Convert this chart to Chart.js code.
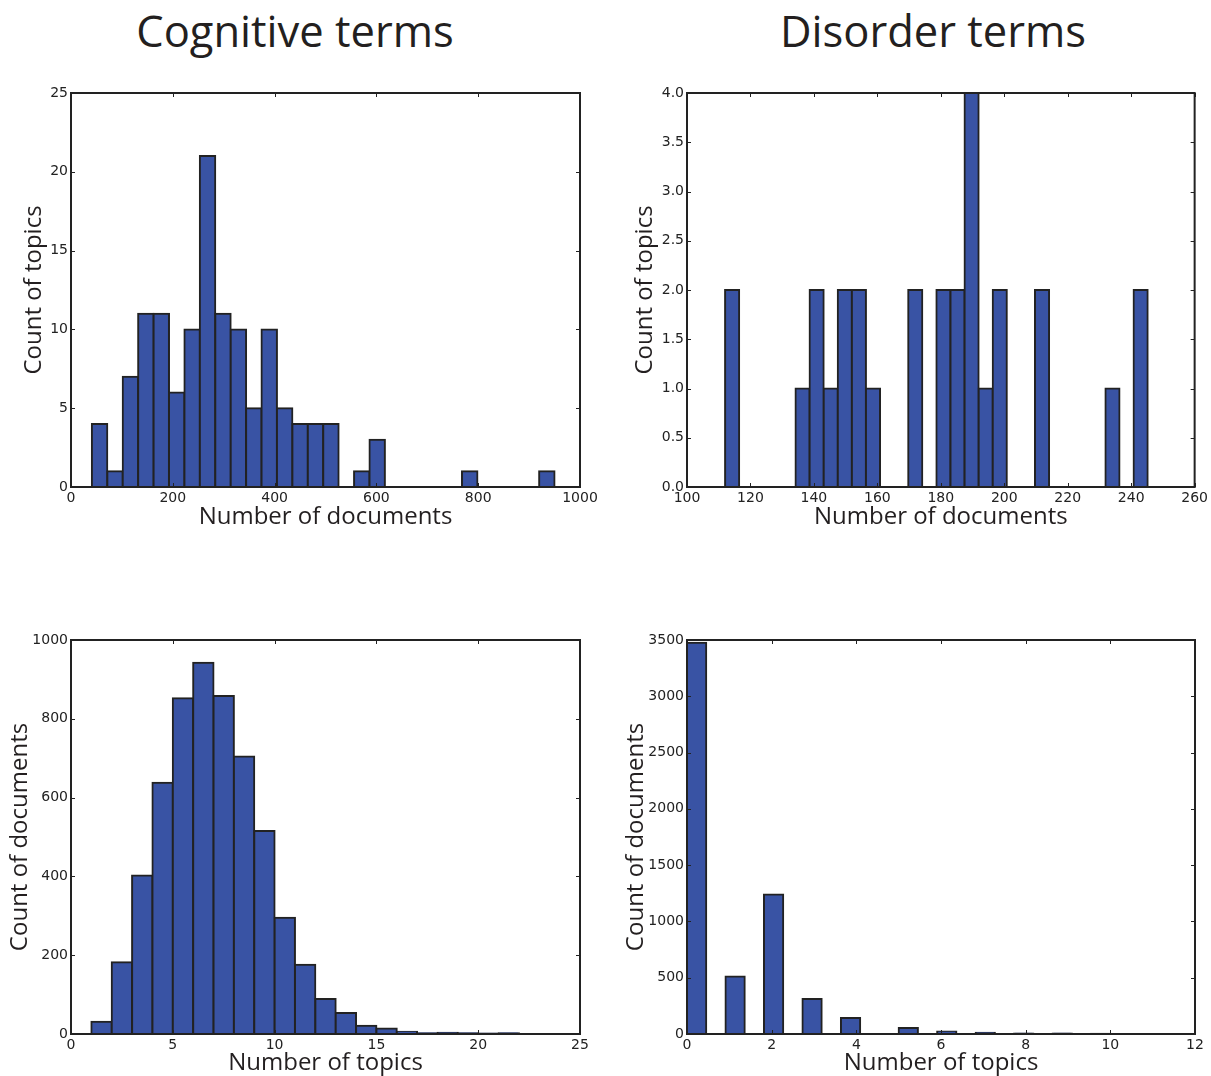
<!DOCTYPE html>
<html>
<head>
<meta charset="utf-8">
<script src="https://cdn.jsdelivr.net/npm/chart.js@4/dist/chart.umd.min.js"></script>
<style>
  body { margin: 0; background: #fff; }
  #page { position: relative; width: 1211px; height: 1076px; overflow: hidden; }
  .head { position: absolute; top: 9px; width: 400px; text-align: center;
          font-family: "Open Sans", sans-serif; font-size: 43.5px; line-height: 1; color: #231f20; }
  canvas { position: absolute; }
</style>
</head>
<body>
<div id="page">
  <div class="head" style="left:95px">Cognitive terms</div>
  <div class="head" style="left:733px">Disorder terms</div>
  <canvas id="c1" width="620" height="460" style="left:0;top:80px"></canvas>
  <canvas id="c2" width="601" height="460" style="left:610px;top:80px"></canvas>
  <canvas id="c3" width="620" height="458" style="left:0;top:620px"></canvas>
  <canvas id="c4" width="601" height="458" style="left:610px;top:620px"></canvas>
</div>
<script>
// histogram bins: first edge, bin width, counts per bin
const cogDocStart = 41;
const cogDocWidth = 30.3;
const cogDocCounts = [4, 1, 7, 11, 11, 6, 10, 21, 11, 10, 5, 10, 5, 4, 4, 4, 0, 1, 3, 0,
                      0, 0, 0, 0, 1, 0, 0, 0, 0, 1];

const disDocStart = 112;
const disDocWidth = 4.44;
const disDocCounts = [2, 0, 0, 0, 0, 1, 2, 1, 2, 2, 1, 0, 0, 2, 0, 2, 2, 4, 1, 2,
                      0, 0, 2, 0, 0, 0, 0, 1, 0, 2];

const cogTopicStart = 1;
const cogTopicWidth = 1;
const cogTopicCounts = [31, 182, 402, 638, 852, 942, 858, 704, 515, 295, 176, 89, 53, 21, 14,
                        6, 2, 3, 2, 1, 2];

const disTopicStart = 0;
const disTopicWidth = 10 / 22;
const disTopicCounts = [3475, 0, 510, 0, 1240, 0, 311, 0, 142, 0, 0, 53, 0, 22, 0, 10, 0, 5,
                        0, 4, 0, 2];

// tick labels
const cogDocXTicks = [0, 200, 400, 600, 800, 1000];
const cogDocYTicks = [0, 5, 10, 15, 20, 25];
const disDocXTicks = [100, 120, 140, 160, 180, 200, 220, 240, 260];
const disDocYTicks = [0, 0.5, 1, 1.5, 2, 2.5, 3, 3.5, 4];
const cogTopicXTicks = [0, 5, 10, 15, 20, 25];
const cogTopicYTicks = [0, 200, 400, 600, 800, 1000];
const disTopicXTicks = [0, 2, 4, 6, 8, 10, 12];
const disTopicYTicks = [0, 500, 1000, 1500, 2000, 2500, 3000, 3500];

const ink = '#222222';
const titleFont = { family: '"Open Sans", sans-serif', size: 24 };
const tickFont = { family: '"DejaVu Sans", sans-serif', size: 14 };

// frame round the plot and matplotlib-style inward ticks on all four sides
const framePlugin = {
  id: 'frame',
  afterDatasetsDraw(chart) {
    const { ctx, chartArea: a, scales } = chart;
    ctx.save();
    ctx.strokeStyle = ink;
    ctx.lineWidth = 1;
    scales.x.ticks.forEach(t => {
      const px = Math.round(scales.x.getPixelForValue(t.value)) + 0.5;
      ctx.beginPath();
      ctx.moveTo(px, a.bottom); ctx.lineTo(px, a.bottom - 4);
      ctx.moveTo(px, a.top); ctx.lineTo(px, a.top + 4);
      ctx.stroke();
    });
    scales.y.ticks.forEach(t => {
      const py = Math.round(scales.y.getPixelForValue(t.value)) + 0.5;
      ctx.beginPath();
      ctx.moveTo(a.left, py); ctx.lineTo(a.left + 4, py);
      ctx.moveTo(a.right, py); ctx.lineTo(a.right - 4, py);
      ctx.stroke();
    });
    ctx.lineWidth = 2;
    ctx.strokeRect(a.left, a.top, a.right - a.left, a.bottom - a.top);
    ctx.restore();
  }
};

function histogram(id, cfg) {
  const points = cfg.counts.map((c, i) => ({ x: cfg.start + (i + 0.5) * cfg.width, y: c }));
  new Chart(document.getElementById(id), {
    type: 'bar',
    data: {
      datasets: [{
        data: points,
        backgroundColor: '#3953a4',
        borderColor: ink,
        borderWidth: 2,
        inflateAmount: 1,
        barPercentage: 1,
        categoryPercentage: 1
      }]
    },
    options: {
      responsive: false,
      animation: false,
      layout: { padding: cfg.padding },
      plugins: { legend: { display: false }, tooltip: { enabled: false } },
      scales: {
        x: {
          type: 'linear',
          offset: false,
          min: cfg.xTicks[0],
          max: cfg.xTicks[cfg.xTicks.length - 1],
          afterBuildTicks: s => { s.ticks = cfg.xTicks.map(v => ({ value: v })); },
          afterFit: s => { s.height = cfg.xHeight; },
          grid: { display: false, drawTicks: false },
          border: { display: false },
          ticks: { font: tickFont, color: ink, padding: 3, maxRotation: 0, autoSkip: false,
                   callback: v => String(v) },
          title: { display: true, text: cfg.xTitle, font: titleFont, color: '#231f20',
                   padding: { top: 0, bottom: cfg.xTitlePad } }
        },
        y: {
          min: cfg.yTicks[0],
          max: cfg.yTicks[cfg.yTicks.length - 1],
          afterBuildTicks: s => { s.ticks = cfg.yTicks.map(v => ({ value: v })); },
          afterFit: s => { s.width = cfg.yWidth; },
          grid: { display: false, drawTicks: false },
          border: { display: false },
          ticks: { font: tickFont, color: ink, padding: 3, autoSkip: false,
                   callback: cfg.yFormat || (v => String(v)) },
          title: { display: true, text: cfg.yTitle, font: titleFont, color: '#231f20',
                   padding: { top: cfg.yTitlePad, bottom: 0 } }
        }
      }
    },
    plugins: [framePlugin]
  });
}

histogram('c1', {
  start: cogDocStart, width: cogDocWidth, counts: cogDocCounts,
  xTicks: cogDocXTicks, yTicks: cogDocYTicks,
  xTitle: 'Number of documents', yTitle: 'Count of topics',
  padding: { top: 13, right: 40, bottom: 0, left: 0 },
  yWidth: 71, xHeight: 53, yTitlePad: 19.5, xTitlePad: 8.5
});

histogram('c2', {
  start: disDocStart, width: disDocWidth, counts: disDocCounts,
  xTicks: disDocXTicks, yTicks: disDocYTicks,
  xTitle: 'Number of documents', yTitle: 'Count of topics',
  yFormat: v => v.toFixed(1),
  padding: { top: 13, right: 16, bottom: 0, left: 0 },
  yWidth: 77, xHeight: 53, yTitlePad: 20.5, xTitlePad: 8.5
});

histogram('c3', {
  start: cogTopicStart, width: cogTopicWidth, counts: cogTopicCounts,
  xTicks: cogTopicXTicks, yTicks: cogTopicYTicks,
  xTitle: 'Number of topics', yTitle: 'Count of documents',
  padding: { top: 20, right: 40, bottom: 0, left: 0 },
  yWidth: 71, xHeight: 44, yTitlePad: 6, xTitlePad: 0.5
});

histogram('c4', {
  start: disTopicStart, width: disTopicWidth, counts: disTopicCounts,
  xTicks: disTopicXTicks, yTicks: disTopicYTicks,
  xTitle: 'Number of topics', yTitle: 'Count of documents',
  padding: { top: 20, right: 16, bottom: 0, left: 0 },
  yWidth: 77, xHeight: 44, yTitlePad: 11.5, xTitlePad: 0.5
});
</script>
</body>
</html>
